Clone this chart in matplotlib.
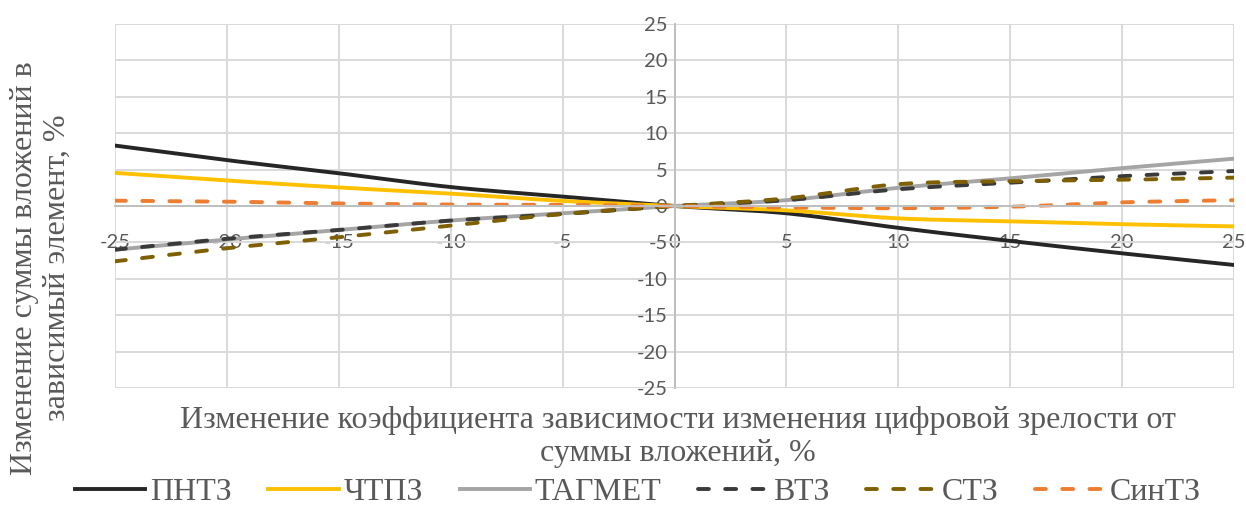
import matplotlib.pyplot as plt
import numpy as np

plt.rcParams['axes.unicode_minus'] = False

x = [-25, -20, -15, -10, -5, 0, 5, 10, 15, 20, 25]

pntz = [8.3, 6.3, 4.5, 2.6, 1.3, 0, -1.0, -3.0, -4.8, -6.5, -8.1]
chtpz = [4.55, 3.5, 2.55, 1.7, 0.7, 0, -0.6, -1.7, -2.1, -2.5, -2.8]
tagmet = [-6.0, -4.6, -3.3, -2.0, -1.0, 0, 0.8, 2.5, 3.8, 5.2, 6.5]
vtz = [-6.0, -4.5, -3.3, -2.0, -1.1, 0, 0.8, 2.3, 3.2, 4.1, 4.8]
stz = [-7.6, -5.8, -4.3, -2.7, -1.1, 0, 1.05, 3.0, 3.4, 3.6, 3.9]
sintz = [0.73, 0.6, 0.35, 0.2, 0.15, 0, -0.2, -0.3, -0.1, 0.5, 0.8]

names = ["ПНТЗ", "ЧТПЗ", "ТАГМЕТ", "ВТЗ", "СТЗ", "СинТЗ"]
colors = ["#262626", "#FFC000", "#A5A5A5", "#3A3A3A", "#7F6000", "#ED7D31"]
dashed = [False, False, False, True, True, True]

TEXT = "#595959"
SERIF = "Liberation Serif"


# excel-like smoothed line (bezier through the points)
def smooth(xs, ys, n=30):
    p = np.column_stack([xs, ys]).astype(float)
    out = [p[0]]
    t = np.linspace(0, 1, n)[1:, None]
    for i in range(len(p) - 1):
        p0 = p[max(i - 1, 0)]
        p1 = p[i]
        p2 = p[i + 1]
        p3 = p[min(i + 2, len(p) - 1)]
        c1 = p1 + (p2 - p0) / 6
        c2 = p2 - (p3 - p1) / 6
        b = ((1 - t) ** 3 * p1 + 3 * (1 - t) ** 2 * t * c1
             + 3 * (1 - t) * t ** 2 * c2 + t ** 3 * p2)
        out.extend(b)
    out = np.array(out)
    return out[:, 0], out[:, 1]


fig = plt.figure(figsize=(12.46, 5.07), dpi=100)
ax = fig.add_axes([115 / 1246, 1 - 388 / 507, 1119 / 1246, 364 / 507])

for ys, name, c, d in zip([pntz, chtpz, tagmet, vtz, stz, sintz], names, colors, dashed):
    sx, sy = smooth(x, ys)
    if d:
        ax.plot(sx, sy, color=c, lw=2.8, label=name, dashes=(2.8, 4.2),
                dash_capstyle='round')
    else:
        ax.plot(sx, sy, color=c, lw=2.8, label=name)

ax.set_xlim(-25, 25)
ax.set_ylim(-25, 25)
ax.set_xticks(range(-25, 26, 5))
ax.set_yticks(range(-25, 26, 5))
ax.grid(True, color="#D9D9D9", lw=1.4)
ax.set_axisbelow(True)

for s in ["top", "right"]:
    ax.spines[s].set_visible(False)
ax.spines["left"].set_position(("data", 0))
ax.spines["bottom"].set_position(("data", 0))
for s in ["left", "bottom"]:
    ax.spines[s].set_color("#BFBFBF")
    ax.spines[s].set_linewidth(1.4)

ax.tick_params(length=0, labelsize=14.5, labelcolor=TEXT)
ax.tick_params(axis="x", pad=20)
ax.tick_params(axis="y", pad=5)
for lab in ax.get_xticklabels() + ax.get_yticklabels():
    lab.set_family("Lato")

fig.text(678 / 1246, 1 - 437 / 507,
         "Изменение коэффициента зависимости изменения цифровой зрелости от\nсуммы вложений, %",
         ha="center", va="center", fontsize=23, family=SERIF, color=TEXT, linespacing=1.15)
fig.text(41 / 1246, 1 - 268 / 507, "Изменение суммы вложений в\nзависимый элемент, %",
         ha="center", va="center", rotation=90, fontsize=23, family=SERIF, color=TEXT,
         linespacing=1.15)

leg = fig.legend(loc="center", bbox_to_anchor=(638 / 1246, 1 - 492 / 507), ncol=6,
                 frameon=False, prop={"family": SERIF, "size": 23}, handlelength=2.2,
                 handletextpad=0.15, columnspacing=1.15, borderaxespad=0,
                 borderpad=0)
for t in leg.get_texts():
    t.set_color(TEXT)

fig.savefig("out.png", dpi=100)
